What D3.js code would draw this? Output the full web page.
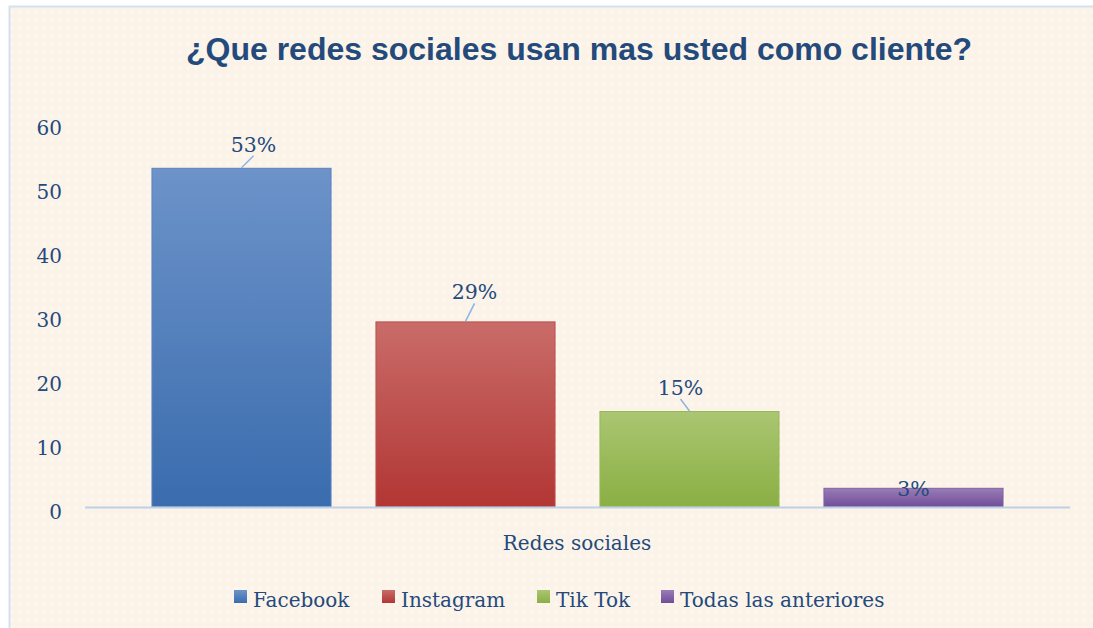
<!DOCTYPE html>
<html><head><meta charset="utf-8">
<script src="https://cdn.jsdelivr.net/npm/d3@7"></script>
<style>body{margin:0;background:#fff;}svg{display:block;}</style>
</head><body><svg id="c" width="1093" height="628"></svg>
<script>
const title = "¿Que redes sociales usan mas usted como cliente?";
const category = "Redes sociales";
const series = ["Facebook", "Instagram", "Tik Tok", "Todas las anteriores"];
const values = [53, 29, 15, 3];
const labels = ["53%", "29%", "15%", "3%"];
const yTicks = [0, 10, 20, 30, 40, 50, 60];

const colTop = ["#6D93C9", "#C96C69", "#AAC672", "#9A7CB6"];
const colBot = ["#3A6CAE", "#B23634", "#8AAF43", "#704F98"];
const colEdge = ["#5B84BF", "#B9504E", "#98B959", "#7F62A5"];
// label offset (dx, baseline dy) relative to bar top-centre
const lblOff = [[12, -16], [9, -22], [-9, -16], [0, 8]];

const svg = d3.select("#c");
const defs = svg.append("defs");
const pat = defs.append("pattern").attr("id","tex").attr("width",8).attr("height",8).attr("patternUnits","userSpaceOnUse");
pat.append("rect").attr("width",8).attr("height",8).attr("fill","#FBF2E8");
pat.append("path").attr("d","M4 1 L7 4 L4 7 L1 4 Z").attr("fill","#FEF8F2").attr("opacity",0.7);
series.forEach((s,i)=>{
  const g = defs.append("linearGradient").attr("id","g"+i).attr("x1",0).attr("y1",0).attr("x2",0).attr("y2",1);
  g.append("stop").attr("offset","0%").attr("stop-color",colTop[i]);
  g.append("stop").attr("offset","100%").attr("stop-color",colBot[i]);
});

svg.append("rect").attr("width",1093).attr("height",628).attr("fill","#FFFFFF");
svg.append("rect").attr("x",9.5).attr("y",6.5).attr("width",1100).attr("height",640)
  .attr("fill","url(#tex)").attr("stroke","#D3E1F1").attr("stroke-width",2);

svg.append("text").attr("x",579).attr("y",60).attr("text-anchor","middle")
  .attr("font-family","'Liberation Sans', Arial, sans-serif").attr("font-weight","bold")
  .attr("font-size",32).attr("fill","#244A7C").text(title);

const x0 = d3.scaleBand().domain([category]).range([85, 1070]).paddingOuter(0.078);
const x1 = d3.scaleBand().domain(series).range([0, x0.bandwidth()]).paddingInner(0.196);
const y = d3.scaleLinear().domain([0, 60]).range([507, 123]);

const serif = "'DejaVu Serif', 'Liberation Serif', serif";
const tc = "#244A7C";

svg.append("g").selectAll("text").data(yTicks).join("text")
  .attr("x", 62).attr("y", d => y(d) + 12).attr("text-anchor","end")
  .attr("font-family", serif).attr("font-size", 20).attr("fill", tc).text(d => d);

const gx = x0(category);
svg.append("g").selectAll("rect").data(values).join("rect")
  .attr("x",(d,i)=>gx + x1(series[i])+0.5).attr("y",d=>y(d)+0.5)
  .attr("width",x1.bandwidth()-1).attr("height",d=>y(0)-y(d)-1)
  .attr("fill",(d,i)=>"url(#g"+i+")").attr("stroke",(d,i)=>colEdge[i]).attr("stroke-width",1);

svg.append("line").attr("x1",85).attr("x2",1070).attr("y1",507.5).attr("y2",507.5)
  .attr("stroke","#BCD0E8").attr("stroke-width",2);

// leader lines
values.forEach((v,i)=>{
  if (lblOff[i][1] > 0) return;
  const cx = gx + x1(series[i]) + x1.bandwidth()/2;
  const ty = y(v);
  svg.append("line").attr("x1",cx).attr("y1",ty)
    .attr("x2",cx + lblOff[i][0]).attr("y2",ty + lblOff[i][1] + 4)
    .attr("stroke","#8DB3E2").attr("stroke-width",1.5);
});

svg.append("g").selectAll("text").data(values).join("text")
  .attr("x",(d,i)=>gx + x1(series[i]) + x1.bandwidth()/2 + lblOff[i][0])
  .attr("y",(d,i)=>y(d) + lblOff[i][1])
  .attr("text-anchor","middle").attr("font-family",serif).attr("font-size",20.5)
  .attr("fill",tc).text((d,i)=>labels[i]);

svg.append("text").attr("x",577).attr("y",550).attr("text-anchor","middle")
  .attr("font-family",serif).attr("font-size",20).attr("fill",tc).text(category);

// legend
const legX = [234, 382, 537, 661];
const lg = svg.append("g");
series.forEach((s,i)=>{
  lg.append("rect").attr("x",legX[i]).attr("y",590).attr("width",13).attr("height",13)
    .attr("fill","url(#g"+i+")");
  lg.append("text").attr("x",legX[i]+19).attr("y",607).attr("font-family",serif)
    .attr("font-size",20).attr("fill",tc).text(s);
});
</script></body></html>
